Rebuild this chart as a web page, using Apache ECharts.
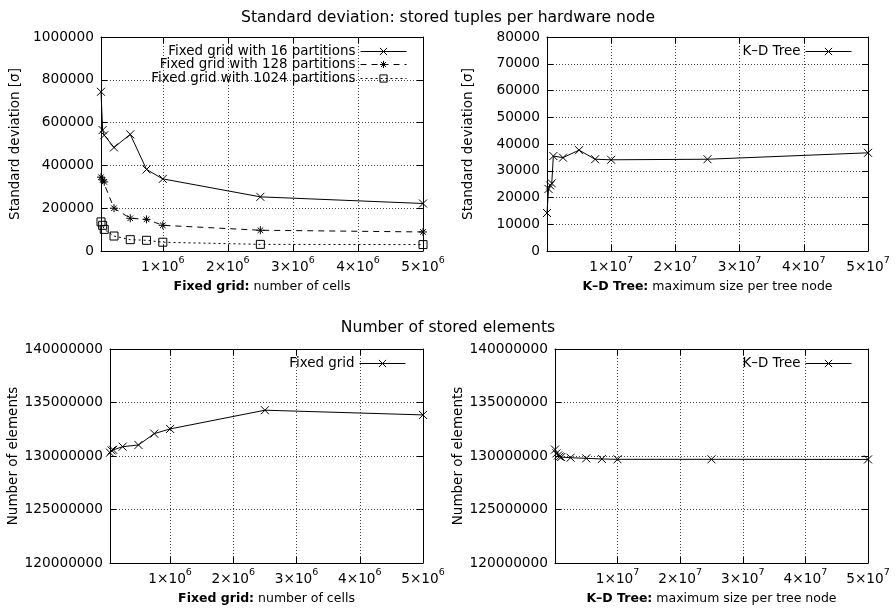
<!DOCTYPE html>
<html><head><meta charset="utf-8">
<script src="https://cdn.jsdelivr.net/npm/echarts@6/dist/echarts.min.js"></script>
<style>html,body{margin:0;padding:0;background:#fff}#c{width:896px;height:608px}</style>
</head><body><div id="c"></div>
<script>
// ---- data ----
const gridCells = [50000, 75000, 100000, 250000, 500000, 750000, 1000000, 2500000, 5000000];
const sd16 = [744000, 565000, 541000, 484000, 545000, 381000, 337000, 253000, 222000];
const sd128 = [345000, 332000, 323000, 200000, 153000, 148000, 120000, 97000, 89000];
const sd1024 = [136000, 120000, 101000, 70000, 53000, 50000, 41000, 31000, 30000];
const gridElems = [130310000, 130520000, 130580000, 130870000, 131030000, 132090000, 132530000, 134280000, 133840000];
const kdSizes = [10000, 250000, 500000, 750000, 1000000, 2500000, 5000000, 7500000, 10000000, 25000000, 50000000];
const kdSd = [14200, 23200, 24500, 25300, 35500, 34900, 37700, 34300, 34100, 34300, 36700];
const kdElems = [130600000, 130250000, 130050000, 129950000, 129900000, 129840000, 129780000, 129720000, 129690000, 129690000, 129680000];
const gridTicks = [1000000, 2000000, 3000000, 4000000, 5000000];
const kdTicks = [10000000, 20000000, 30000000, 40000000, 50000000];
const titles = ['Standard deviation: stored tuples per hardware node', 'Number of stored elements'];

// ---- styling ----
const FONT = 'DejaVu Sans';
const BLK = '#000';
const GRIDLINE = {show: true, lineStyle: {color: '#444', width: 1, type: [1, 2]}};
const SYM_X = 'path://M0,0L10,10M10,0L0,10';
const SYM_STAR = 'path://M5,0L5,10M0,5L10,5M1.5,1.5L8.5,8.5M8.5,1.5L1.5,8.5';
const SYM_SQ = 'path://M0,0L10,0L10,10L0,10Z';

const grids = [
  {left: 101, top: 37, width: 322, height: 214},
  {left: 547, top: 37, width: 321, height: 214},
  {left: 110, top: 349, width: 313, height: 214},
  {left: 555, top: 349, width: 313, height: 214}
].map(g => Object.assign({outerBoundsMode: 'none', containLabel: false}, g));

function xAxes(gi, min, max, ticks, exp, div, bold, rest) {
  const common = {
    type: 'value', gridIndex: gi, min: min, max: max,
    axisLine: {show: true, onZero: false, lineStyle: {color: BLK, width: 1}},
    axisTick: {show: true, inside: true, length: 6, customValues: ticks, lineStyle: {color: BLK}}
  };
  return [
    Object.assign({}, common, {
      position: 'bottom',
      name: '{b|' + bold + '} ' + rest, nameLocation: 'middle', nameGap: 29,
      nameTextStyle: {fontFamily: FONT, fontSize: 12.5, color: BLK,
        rich: {b: {fontFamily: FONT, fontSize: 12.5, fontWeight: 'bold', color: BLK}}},
      axisLabel: {
        customValues: ticks, margin: 5,
        formatter: v => '{a|' + Math.round(v / div) + '×10}{s|' + exp + '}',
        rich: {
          a: {fontFamily: FONT, fontSize: 13.7, color: BLK, lineHeight: 22},
          s: {fontFamily: FONT, fontSize: 9.5, color: BLK, verticalAlign: 'top'}
        }
      },
      splitLine: GRIDLINE
    }),
    Object.assign({}, common, {position: 'top', axisLabel: {show: false}, splitLine: {show: false}})
  ];
}
function yAxes(gi, min, max, interval, name, gap) {
  const common = {
    type: 'value', gridIndex: gi, min: min, max: max, interval: interval,
    axisLine: {show: true, onZero: false, lineStyle: {color: BLK, width: 1}},
    axisTick: {show: true, inside: true, length: 6, lineStyle: {color: BLK}}
  };
  return [
    Object.assign({}, common, {
      position: 'left', name: name, nameLocation: 'middle', nameGap: gap, nameRotate: 90,
      nameTextStyle: {fontFamily: FONT, fontSize: 13.5, color: BLK},
      axisLabel: {fontFamily: FONT, fontSize: 13.7, color: BLK, margin: 7, formatter: v => String(v)},
      splitLine: GRIDLINE
    }),
    Object.assign({}, common, {position: 'right', axisLabel: {show: false}, splitLine: {show: false}})
  ];
}
function line(name, xs, ys, gi, sym, type, size) {
  return {
    type: 'line', name: name, xAxisIndex: gi * 2, yAxisIndex: gi * 2,
    data: xs.map((x, i) => [x, ys[i]]),
    symbol: sym, symbolSize: size, showSymbol: true, showAllSymbol: true,
    lineStyle: {color: BLK, width: 1, type: type},
    itemStyle: {color: 'rgba(0,0,0,0)', borderColor: BLK, borderWidth: 1},
    emphasis: {disabled: true}, z: 3
  };
}
const legendCommon = {
  orient: 'horizontal', align: 'right', itemWidth: 46, itemHeight: 9, itemGap: 0, padding: 0,
  selectedMode: false, textStyle: {fontFamily: FONT, fontSize: 13.4, color: BLK},
  lineStyle: {width: 1, color: BLK}, itemStyle: {borderWidth: 1, borderColor: BLK}
};

const option = {
  animation: false,
  backgroundColor: '#fff',
  title: [
    {text: titles[0], left: 'center', top: 5, textStyle: {fontFamily: FONT, fontSize: 15.6, fontWeight: 'normal', color: BLK}},
    {text: titles[1], left: 'center', top: 315, textStyle: {fontFamily: FONT, fontSize: 15.6, fontWeight: 'normal', color: BLK}}
  ],
  legend: [
    Object.assign({}, legendCommon, {data: ['Fixed grid with 16 partitions'], right: 489, top: 45}),
    Object.assign({}, legendCommon, {data: ['Fixed grid with 128 partitions'], right: 489, top: 58}),
    Object.assign({}, legendCommon, {data: ['Fixed grid with 1024 partitions'], right: 489, top: 72}),
    Object.assign({}, legendCommon, {data: ['K–D Tree'], right: 44, top: 45}),
    Object.assign({}, legendCommon, {data: ['Fixed grid'], right: 490, top: 357}),
    Object.assign({}, legendCommon, {data: ['K–D Tree'], right: 44, top: 357})
  ],
  grid: grids,
  xAxis: [].concat(
    xAxes(0, gridCells[0], 5000000, gridTicks, 6, 1e6, 'Fixed grid:', 'number of cells'),
    xAxes(1, kdSizes[0], 50000000, kdTicks, 7, 1e7, 'K–D Tree:', 'maximum size per tree node'),
    xAxes(2, gridCells[0], 5000000, gridTicks, 6, 1e6, 'Fixed grid:', 'number of cells'),
    xAxes(3, kdSizes[0], 50000000, kdTicks, 7, 1e7, 'K–D Tree:', 'maximum size per tree node')
  ),
  yAxis: [].concat(
    yAxes(0, 0, 1000000, 200000, 'Standard deviation [σ]', 79),
    yAxes(1, 0, 80000, 10000, 'Standard deviation [σ]', 72),
    yAxes(2, 120000000, 140000000, 5000000, 'Number of elements', 88),
    yAxes(3, 120000000, 140000000, 5000000, 'Number of elements', 83)
  ),
  series: [
    line('Fixed grid with 16 partitions', gridCells, sd16, 0, SYM_X, 'solid', 8),
    line('Fixed grid with 128 partitions', gridCells, sd128, 0, SYM_STAR, [6, 5], 8),
    line('Fixed grid with 1024 partitions', gridCells, sd1024, 0, SYM_SQ, [2, 3], 8),
    line('K–D Tree', kdSizes, kdSd, 1, SYM_X, 'solid', 8),
    line('Fixed grid', gridCells, gridElems, 2, SYM_X, 'solid', 8),
    line('K–D Tree', kdSizes, kdElems, 3, SYM_X, 'solid', 8)
  ]
};
const chart = echarts.init(document.getElementById('c'), null, {renderer: 'canvas'});
chart.setOption(option);
</script></body></html>
